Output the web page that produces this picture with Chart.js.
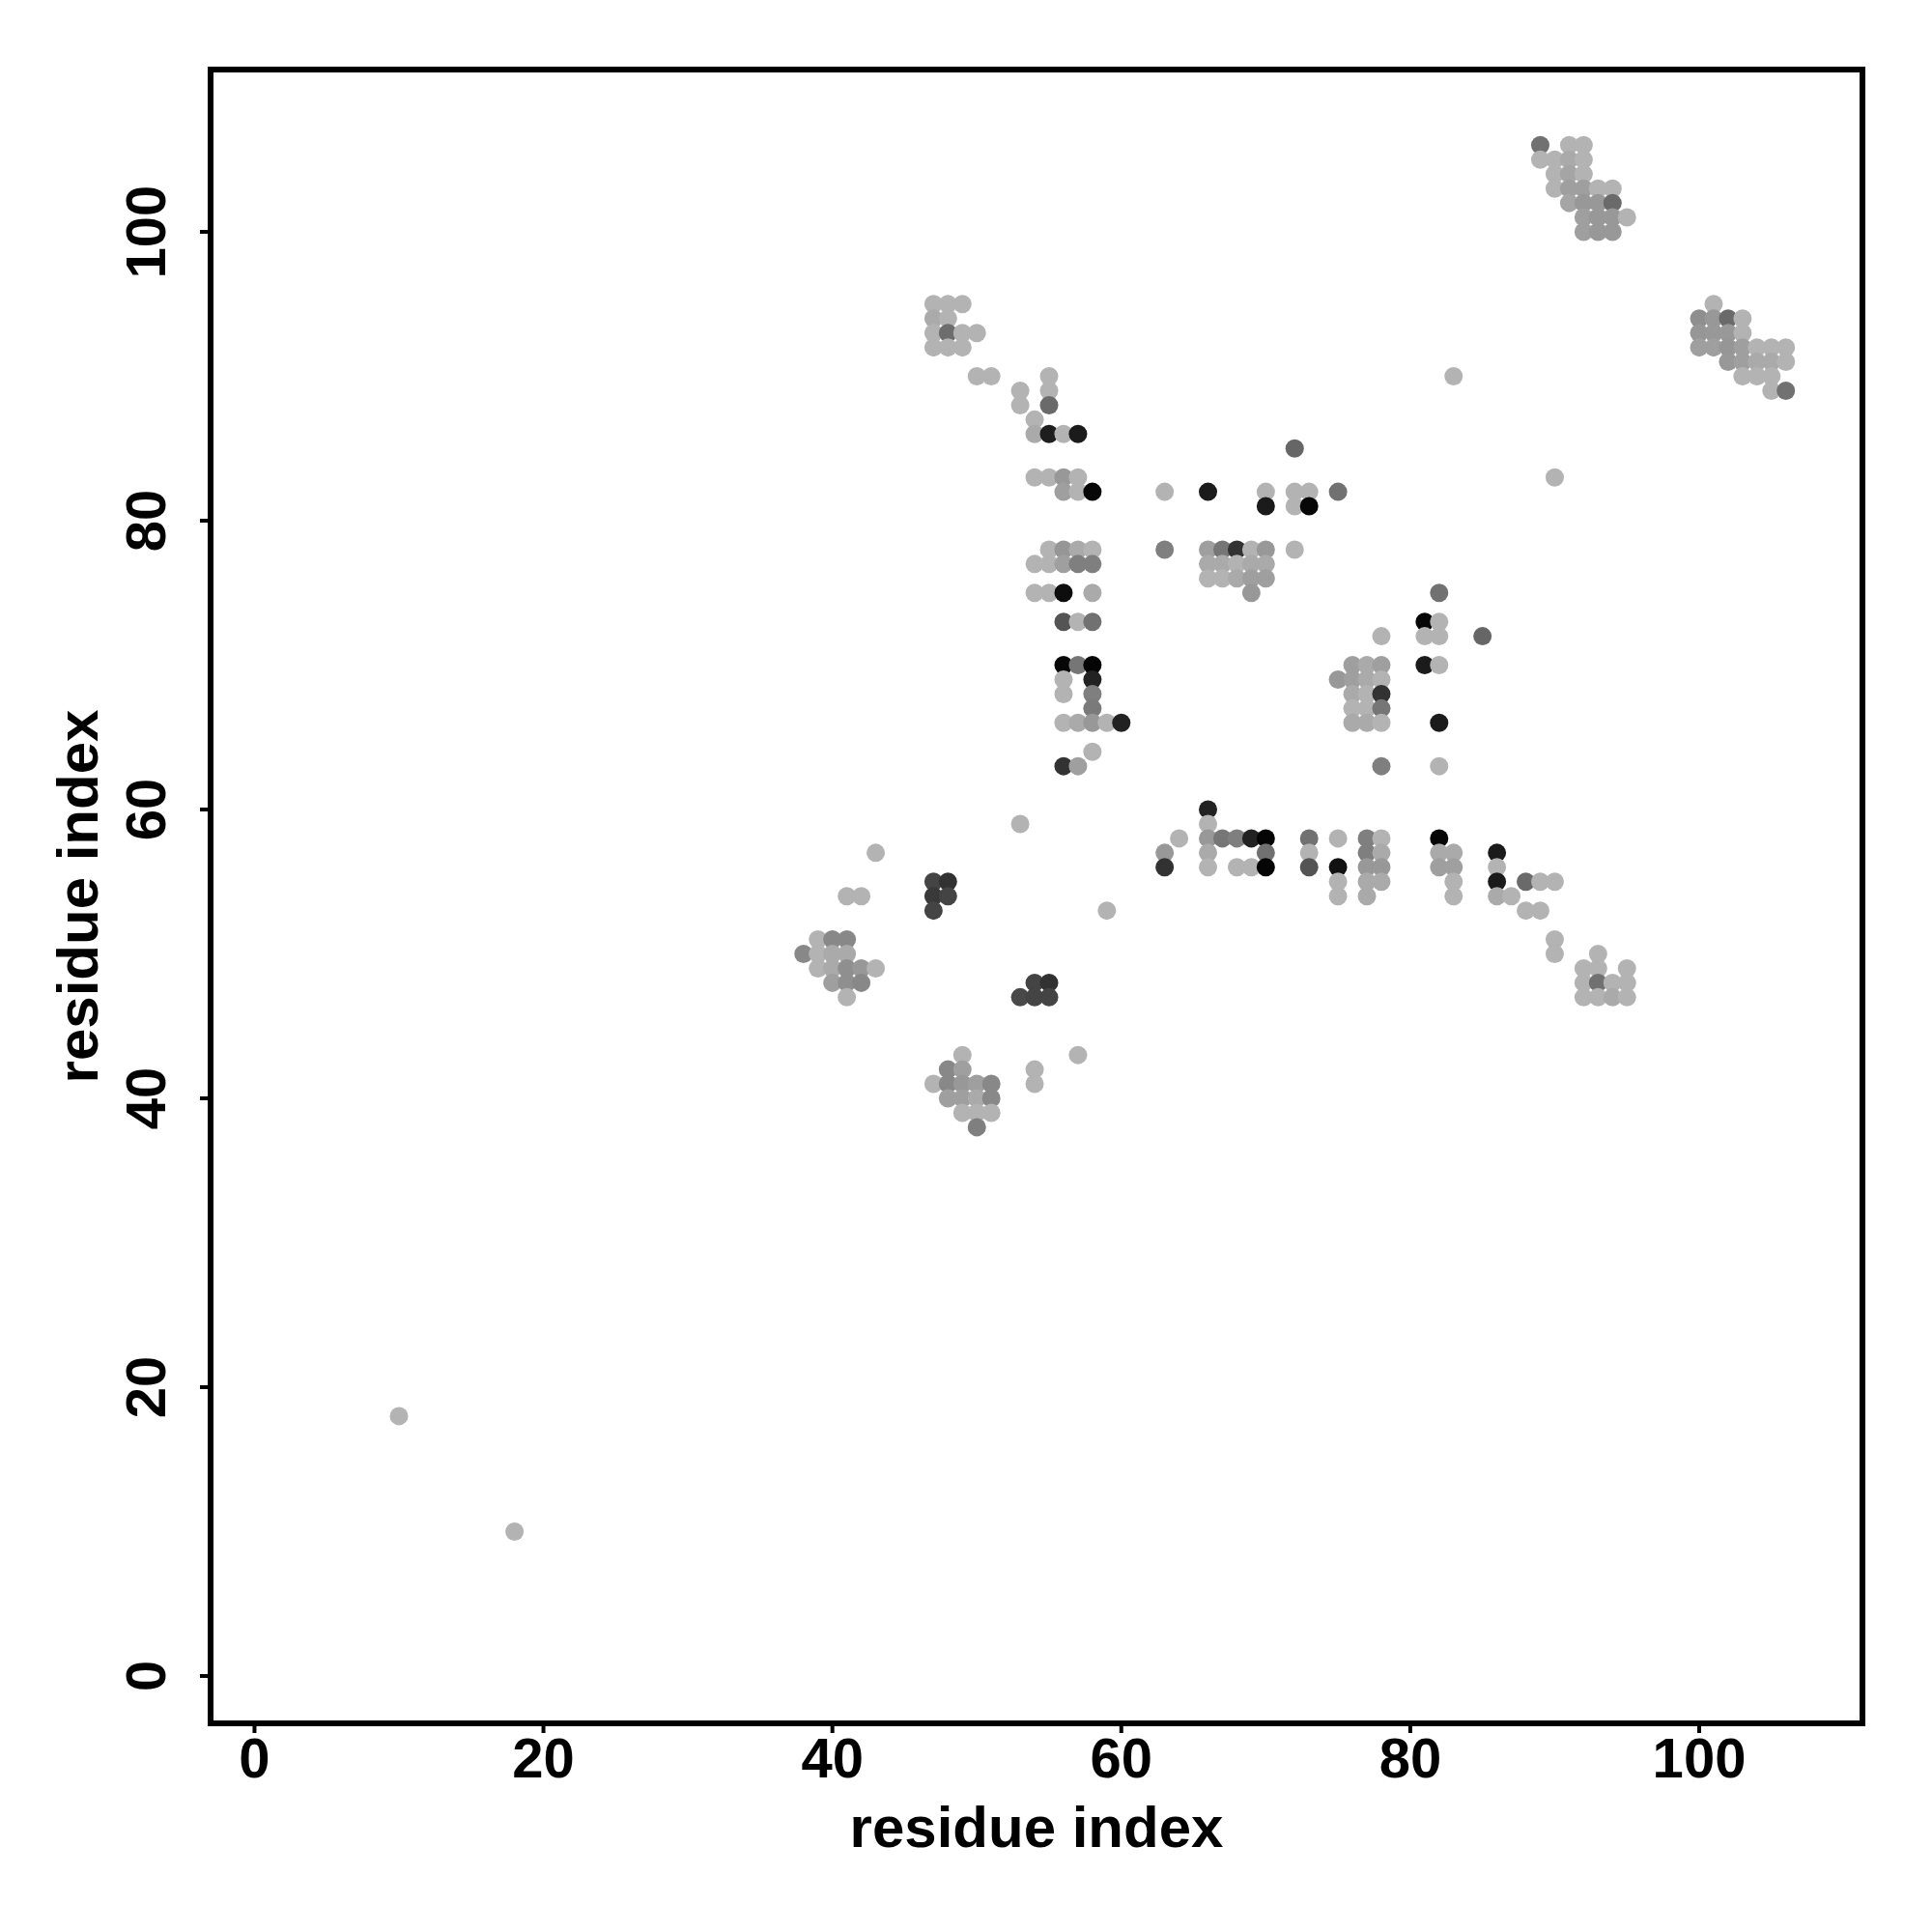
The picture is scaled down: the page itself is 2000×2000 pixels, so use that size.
<!DOCTYPE html>
<html>
<head>
<meta charset="utf-8">
<script src="https://cdn.jsdelivr.net/npm/chart.js@4.4.1/dist/chart.umd.min.js"></script>
<style>
  html, body { margin: 0; padding: 0; background: #ffffff; }
</style>
</head>
<body>
<canvas id="contactMap" width="2000" height="2000"></canvas>
<script>
// contacts as [residue i, residue j, score]  (score 0 = weakest/light grey, 1 = strongest/black)
const loneContacts = [[10,18,0],[18,10,0],[83,90,0],[72,85,0.43],[90,83,0],[85,72,0.43],
    [53,59,0],[43,57,0],[59,53,0],[57,43,0]];

const clusterA = [[47,95,0],[48,95,0],[49,95,0],[47,94,0.05],[48,94,0],
    [47,93,0],[48,93,0.39],[49,93,0],[50,93,0],[47,92,0],[48,92,0],[49,92,0],
    [50,90,0],[51,90,0]];

const clusterB = [[55,90,0],[55,89,0],[55,88,0.41],[53,89,0],[53,88,0],
    [54,87,0],[54,86,0.05],[55,86,0.83],[56,86,0],[57,86,0.85],
    [54,83,0],[55,83,0],[56,83,0.15],[57,83,0],[56,82,0.11],[57,82,0],[58,82,0.96],
    [55,78,0],[56,78,0.16],[57,78,0.05],[58,78,0],
    [54,77,0],[55,77,0],[56,77,0.11],[57,77,0.29],[58,77,0.29],
    [54,75,0],[55,75,0],[56,75,0.93],[58,75,0.05],
    [56,73,0.53],[57,73,0],[58,73,0.37],
    [56,70,0.96],[57,70,0.34],[58,70,0.97],[56,69,0],[58,69,0.81],
    [56,68,0],[58,68,0.29],[58,67,0.32],
    [56,66,0],[57,66,0.05],[58,66,0.15],[59,66,0],[60,66,0.81],
    [58,64,0],[56,63,0.72],[57,63,0.11]];

const clusterC = [[63,82,0],[66,82,0.85],[70,82,0],[72,82,0],[73,82,0],[75,82,0.37],
    [70,81,0.85],[72,81,0],[73,81,0.96],
    [63,78,0.29],[66,78,0.11],[67,78,0.34],[68,78,0.72],[69,78,0],[70,78,0.15],[72,78,0],
    [66,77,0.05],[67,77,0.05],[68,77,0],[69,77,0.05],[70,77,0.05],
    [66,76,0],[67,76,0],[68,76,0.05],[69,76,0.11],[70,76,0.11],[69,75,0.15]];

const clusterD = [[82,75,0.37],[81,73,0.96],[82,73,0],[78,72,0],[81,72,0],[82,72,0],
    [76,70,0.11],[77,70,0.05],[78,70,0.11],[81,70,0.85],[82,70,0],
    [75,69,0.15],[76,69,0.11],[77,69,0.05],[78,69,0],
    [76,68,0.05],[77,68,0],[78,68,0.72],[76,67,0],[77,67,0],[78,67,0.34],
    [76,66,0.05],[77,66,0.05],[78,66,0],[82,66,0.85],[78,63,0.29],[82,63,0]];

const clusterE = [[66,60,0.81],[66,59,0],
    [64,58,0],[66,58,0.15],[67,58,0.34],[68,58,0.29],[69,58,0.81],[70,58,0.97],
    [73,58,0.37],[75,58,0],[77,58,0.29],[78,58,0],[82,58,0.96],
    [63,57,0.15],[66,57,0.05],[70,57,0.37],[73,57,0],[77,57,0.29],[78,57,0.05],
    [82,57,0.05],[83,57,0.05],[86,57,0.85],
    [63,56,0.72],[66,56,0],[68,56,0],[69,56,0],[70,56,0.97],[73,56,0.53],[75,56,0.9],
    [77,56,0.15],[78,56,0.15],[82,56,0.11],[83,56,0.11],[86,56,0],
    [75,55,0],[77,55,0.05],[78,55,0.05],[83,55,0],[86,55,0.85],[88,55,0.41],[89,55,0],[90,55,0],
    [75,54,0],[77,54,0.05],[83,54,0],[86,54,0.05],[87,54,0],[88,53,0],[89,53,0]];

const clusterF = [[90,51,0],[90,50,0],[93,50,0],[92,49,0],[93,49,0],[95,49,0],
    [92,48,0],[93,48,0.37],[94,48,0],[95,48,0],[92,47,0],[93,47,0],[94,47,0.05],[95,47,0]];

const clusterG = [[41,54,0],[42,54,0],[39,51,0],[40,51,0.24],[41,51,0.24],
    [38,50,0.24],[39,50,0],[40,50,0.05],[41,50,0.05],
    [39,49,0],[40,49,0.05],[41,49,0.2],[42,49,0.15],[43,49,0],
    [40,48,0.11],[41,48,0.2],[42,48,0.24],[41,47,0]];

const clusterH = [[47,55,0.62],[48,55,0.72],[47,54,0.68],[48,54,0.62],[47,53,0.62],
    [54,48,0.62],[55,48,0.72],[53,47,0.59],[54,47,0.62],[55,47,0.62]];

const clusterI = [[54,42,0],[54,41,0],[49,43,0],[48,42,0.24],[49,42,0.11],
    [47,41,0],[48,41,0.24],[49,41,0.15],[50,41,0.11],[51,41,0.24],
    [48,40,0.11],[49,40,0.11],[50,40,0.05],[51,40,0.24],
    [49,39,0],[50,39,0],[51,39,0],[50,38,0.29]];

const clusterJ = [[89,106,0.37],[91,106,0],[92,106,0],
    [89,105,0],[90,105,0],[91,105,0.05],[92,105,0],
    [90,104,0],[91,104,0.08],[92,104,0],
    [90,103,0],[91,103,0.11],[92,103,0.11],[93,103,0],[94,103,0],
    [91,102,0.08],[92,102,0.15],[93,102,0.15],[94,102,0.41],
    [92,101,0.11],[93,101,0.15],[94,101,0.15],[95,101,0],
    [92,100,0.11],[93,100,0.15],[94,100,0.15]];

const clusterK = [[101,95,0],
    [100,94,0.2],[101,94,0.15],[102,94,0.41],[103,94,0],
    [100,93,0.16],[101,93,0.15],[102,93,0.15],[103,93,0],
    [100,92,0.11],[101,92,0.11],[102,92,0.16],[103,92,0.11],[104,92,0],[105,92,0],[106,92,0],
    [102,91,0.15],[103,91,0.11],[104,91,0.05],[105,91,0.05],[106,91,0],
    [103,90,0],[104,90,0],[105,90,0],[105,89,0],[106,89,0.37]];

const tickValues = [0, 20, 40, 60, 80, 100];
const axisTitle = 'residue index';

// put all contacts together
const allContacts = [].concat(loneContacts, clusterA, clusterB, clusterC, clusterD,
    clusterE, clusterF, clusterG, clusterH, clusterI, clusterJ, clusterK);

const points = allContacts.map(c => ({ x: c[0], y: c[1] }));
const colors = allContacts.map(c => {
    const g = Math.round(179 * (1 - c[2]));
    return 'rgb(' + g + ',' + g + ',' + g + ')';
});

// box, ticks, tick labels and titles drawn like base R graphics
const frame = {
    id: 'frame',
    afterDraw(chart) {
        const ctx = chart.ctx;
        const area = chart.chartArea;
        const xs = chart.scales.x;
        const ys = chart.scales.y;
        ctx.save();
        ctx.strokeStyle = '#000';
        ctx.fillStyle = '#000';
        ctx.lineWidth = 6;
        ctx.strokeRect(area.left, area.top, area.right - area.left, area.bottom - area.top);

        ctx.lineWidth = 4;
        ctx.font = 'bold 58px "Liberation Sans", Arial, sans-serif';
        ctx.textAlign = 'center';
        ctx.textBaseline = 'alphabetic';
        tickValues.forEach(v => {
            const px = xs.getPixelForValue(v);
            ctx.beginPath();
            ctx.moveTo(px, area.bottom);
            ctx.lineTo(px, area.bottom + 10);
            ctx.stroke();
            ctx.fillText(String(v), px, area.bottom + 56);

            const py = ys.getPixelForValue(v);
            ctx.beginPath();
            ctx.moveTo(area.left, py);
            ctx.lineTo(area.left - 11, py);
            ctx.stroke();
            ctx.save();
            ctx.translate(area.left - 47, py);
            ctx.rotate(-Math.PI / 2);
            ctx.fillText(String(v), 0, 0);
            ctx.restore();
        });

        ctx.font = 'bold 60px "Liberation Sans", Arial, sans-serif';
        ctx.fillText(axisTitle, (area.left + area.right) / 2, area.bottom + 128);
        ctx.save();
        ctx.translate(area.left - 117, (area.top + area.bottom) / 2);
        ctx.rotate(-Math.PI / 2);
        ctx.fillText(axisTitle, 0, 0);
        ctx.restore();
        ctx.restore();
    }
};

new Chart(document.getElementById('contactMap'), {
    type: 'scatter',
    data: {
        datasets: [{
            data: points,
            pointRadius: 9.5,
            pointHoverRadius: 9.5,
            pointBorderWidth: 0,
            pointBackgroundColor: colors,
            showLine: false
        }]
    },
    options: {
        responsive: false,
        animation: false,
        devicePixelRatio: 1,
        layout: { padding: { left: 218, right: 72, top: 72, bottom: 216 } },
        scales: {
            x: { type: 'linear', min: -3.04, max: 111.3, display: false },
            y: { type: 'linear', min: -3.28, max: 111.24, display: false }
        },
        plugins: {
            legend: { display: false },
            tooltip: { enabled: false }
        }
    },
    plugins: [frame]
});
</script>
</body>
</html>
